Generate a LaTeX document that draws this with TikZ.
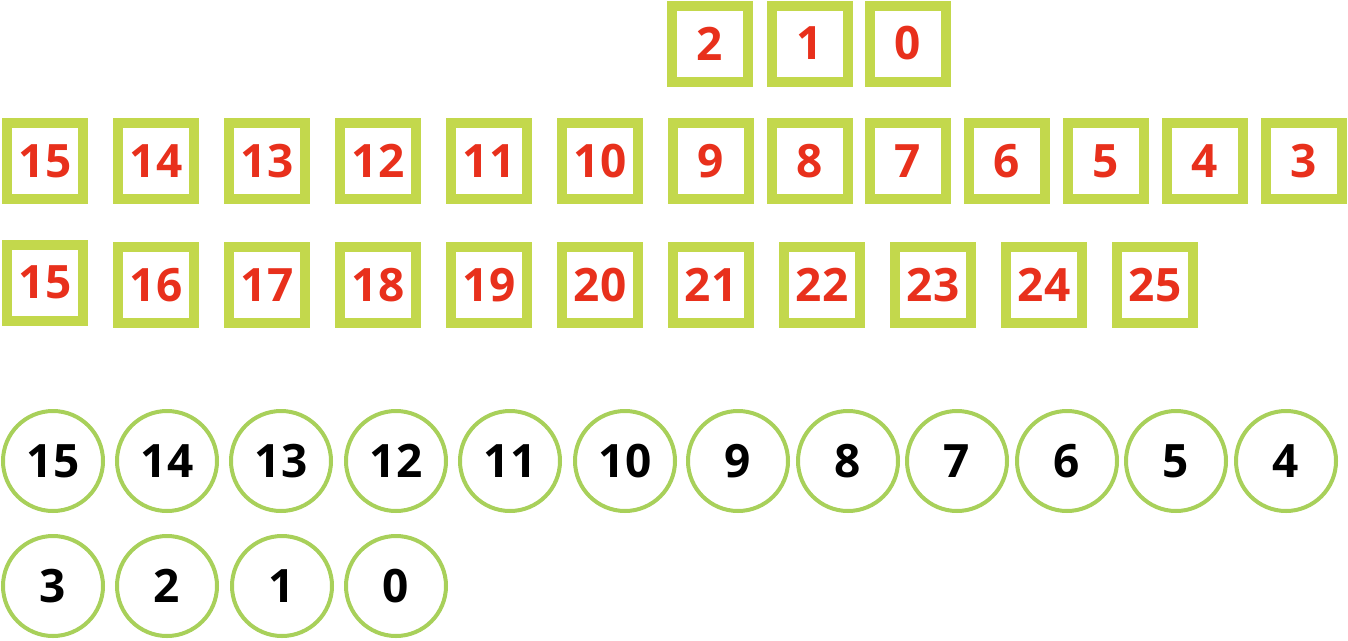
\documentclass[tikz,border=0pt]{standalone}
\usepackage{fontspec}
\setsansfont{Open Sans}
\usepackage{tikz}
\usetikzlibrary{positioning}
\definecolor{boxgreen}{RGB}{195,216,76}
\definecolor{ringgreen}{RGB}{168,208,90}
\definecolor{numred}{RGB}{232,48,28}
\tikzset{
  slot/.style={draw=boxgreen, line width=10pt, minimum size=76pt, inner sep=0pt,
    text=numred, font=\sffamily\bfseries\fontsize{46}{46}\selectfont},
  ring/.style={circle, draw=ringgreen, line width=4pt, minimum size=100pt, inner sep=0pt,
    text=black, font=\sffamily\bfseries\fontsize{46}{46}\selectfont}
}

\begin{document}
\begin{tikzpicture}[x=1pt, y=-1pt]
      \useasboundingbox (0,0) rectangle (1348,640);

      % top row
      \foreach \n/\x in {2/710, 1/810, 0/908}
        \node (t\n)[slot] at (\x, 43.5) {\n};

      % middle row, counting down
      \foreach \n/\x in {15/45, 14/156, 13/267, 12/378, 11/489, 10/600, 9/711,
                         8/810, 7/908, 6/1007, 5/1106, 4/1205, 3/1304}
        \node (m\n)[slot] at (\x, 161) {\n};

      % lower row, counting up
      \node (u15)[slot] at (45, 282.5) {15};
      \foreach \n/\x in {16/156, 17/267, 18/378, 19/489, 20/600, 21/711,
                         22/822, 23/933, 24/1044, 25/1155}
        \node (u\n)[slot] at (\x, 285) {\n};

      % rings
      \foreach \n/\x in {15/53, 14/167, 13/281, 12/396, 11/510, 10/625, 9/738,
                         8/848, 7/957, 6/1067, 5/1176, 4/1286}
        \node (r\n)[ring] at (\x, 461) {\n};
      \foreach \n/\x in {3/53, 2/167, 1/282, 0/396}
        \node (r\n)[ring] at (\x, 586) {\n};
\end{tikzpicture}
\end{document}
